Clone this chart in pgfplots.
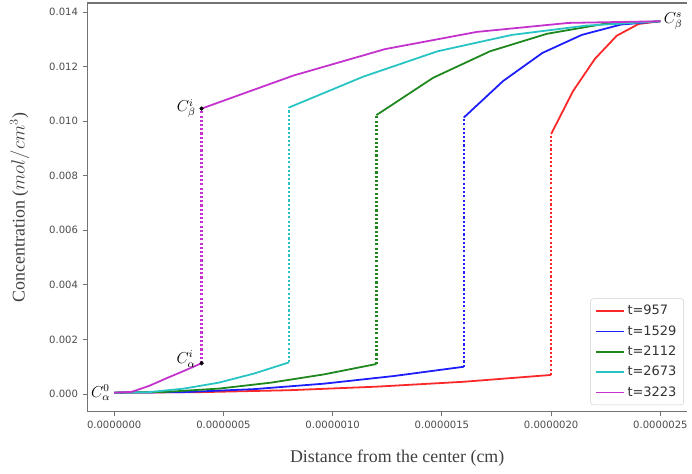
\documentclass[border=0pt]{standalone}
\usepackage{pgfplots}
\pgfplotsset{compat=1.18}
\usepackage{fontspec}
\setmainfont{Liberation Serif}
\newfontfamily\dejavu{DejaVu Sans}
\definecolor{mplred}{RGB}{250,40,40}
\definecolor{mplblue}{RGB}{30,30,250}
\definecolor{mplgreen}{RGB}{30,135,30}
\definecolor{mplcyan}{RGB}{40,196,196}
\definecolor{mplmag}{RGB}{196,50,206}
\tikzset{
  solidc/.style={line width=1.35pt},
  jump/.style={line width=1.7pt, dash pattern=on 1.6pt off 1.6pt}
}
\begin{document}
\begin{tikzpicture}
\begin{axis}[
    scale only axis,
    width=453pt, height=309pt,
    xmin=-1.23e-7, xmax=2.62e-6,
    ymin=-0.00065, ymax=0.01433,
    axis x line*=bottom, axis y line*=left,
    axis line style={black!55, line width=0.8pt},
    tick align=outside,
    major tick length=3.5pt,
    tick style={black!55, line width=0.7pt},
    xtick={0,5e-7,1e-6,1.5e-6,2e-6,2.5e-6},
    ytick={0,0.002,0.004,0.006,0.008,0.010,0.012,0.014},
    scaled x ticks=false, scaled y ticks=false,
    xticklabel style={/pgf/number format/.cd, fixed, fixed zerofill, precision=7},
    yticklabel style={/pgf/number format/.cd, fixed, fixed zerofill, precision=3},
    /pgf/number format/assume math mode=true,
    tick label style={font=\dejavu\fontsize{7.6}{9}\selectfont, text=black!70},
    xlabel={Distance from the center (cm)},
    ylabel={Concentration ($mol/cm^3$)},
    label style={font=\fontsize{13.5}{15}\selectfont, text=black!75},
    xlabel style={at={(axis description cs:0.517,-0.114)}, anchor=center},
    ylabel style={at={(axis description cs:-0.113,0.5)}, anchor=center},
    legend cell align=left,
    legend style={at={(rel axis cs:1,0)}, anchor=south east, xshift=-2pt, yshift=5pt,
        draw=black!18, rounded corners=2pt, fill=white,
        font=\dejavu\fontsize{9.8}{11}\selectfont, text=black!80,
        inner xsep=3.5pt, inner ysep=3pt, row sep=2.6pt},
    legend image code/.code={\draw[#1, line width=1.35pt] (0pt,0pt) -- (21pt,0pt);},
    clip=false,
]
% red t=957
\addplot[mplred, solidc] coordinates {(0,0.00005)(4e-7,0.00007)(8e-7,0.00014)(12e-7,0.00027)(16e-7,0.00045)(20e-7,0.00070)};
\addplot[mplred, solidc, forget plot] coordinates {(20e-7,0.00953)(21e-7,0.01110)(22e-7,0.01228)(23e-7,0.01313)(24e-7,0.01356)(25e-7,0.01366)};
\addplot[mplred, jump, forget plot] coordinates {(20e-7,0.00070)(20e-7,0.00953)};
% blue t=1529
\addplot[mplblue, solidc] coordinates {(0,0.00005)(3.2e-7,0.00007)(6.4e-7,0.00018)(9.6e-7,0.00038)(12.8e-7,0.00066)(16e-7,0.00100)};
\addplot[mplblue, solidc, forget plot] coordinates {(16e-7,0.01013)(17.8e-7,0.01147)(19.6e-7,0.01250)(21.4e-7,0.01316)(23.2e-7,0.01354)(25e-7,0.01366)};
\addplot[mplblue, jump, forget plot] coordinates {(16e-7,0.00100)(16e-7,0.01013)};
% green t=2112
\addplot[mplgreen, solidc] coordinates {(0,0.00005)(2.4e-7,0.00008)(4.8e-7,0.00020)(7.2e-7,0.00042)(9.6e-7,0.00072)(12e-7,0.00110)};
\addplot[mplgreen, solidc, forget plot] coordinates {(12e-7,0.01022)(14.6e-7,0.01159)(17.2e-7,0.01256)(19.8e-7,0.01320)(22.4e-7,0.01356)(25e-7,0.01366)};
\addplot[mplgreen, jump, forget plot] coordinates {(12e-7,0.00110)(12e-7,0.01022)};
% cyan t=2673
\addplot[mplcyan, solidc] coordinates {(0,0.00005)(1.6e-7,0.00007)(3.2e-7,0.00020)(4.8e-7,0.00042)(6.4e-7,0.00075)(8e-7,0.00116)};
\addplot[mplcyan, solidc, forget plot] coordinates {(8e-7,0.01050)(11.4e-7,0.01163)(14.8e-7,0.01256)(18.2e-7,0.01316)(21.6e-7,0.01350)(25e-7,0.01366)};
\addplot[mplcyan, jump, forget plot] coordinates {(8e-7,0.00116)(8e-7,0.01050)};
% magenta t=3223
\addplot[mplmag, solidc] coordinates {(0,0.00005)(0.8e-7,0.00008)(1.6e-7,0.00030)(2.4e-7,0.00058)(3.2e-7,0.00085)(4e-7,0.00113)};
\addplot[mplmag, solidc, forget plot] coordinates {(4e-7,0.01046)(8.2e-7,0.01167)(12.4e-7,0.01264)(16.6e-7,0.01327)(20.8e-7,0.01360)(25e-7,0.01366)};
\addplot[mplmag, jump, forget plot] coordinates {(4e-7,0.00113)(4e-7,0.01046)};
% interface points
\addplot[only marks, mark=*, mark size=1.4pt, black, forget plot] coordinates {(4e-7,0.00113)(4e-7,0.01046)};
\legend{t=957, t=1529, t=2112, t=2673, t=3223}
% annotations
\node[anchor=east, font=\fontsize{12}{13}\selectfont, xshift=0.5pt] at (axis cs:0,0.00005) {$C_\alpha^0$};
\node[anchor=east, font=\fontsize{12}{13}\selectfont, yshift=3pt, xshift=-1pt] at (axis cs:4e-7,0.00113) {$C_\alpha^i$};
\node[anchor=east, font=\fontsize{12}{13}\selectfont, xshift=-1pt] at (axis cs:4e-7,0.01046) {$C_\beta^i$};
\node[anchor=west, font=\fontsize{12}{13}\selectfont, xshift=-1pt] at (axis cs:25e-7,0.01366) {$C_\beta^s$};
\draw[black!55, line width=0.8pt] (rel axis cs:0,1) -- (rel axis cs:1,1);
\path (rel axis cs:-0.1457,-0.1505) (rel axis cs:1,1.0073);
\end{axis}
\end{tikzpicture}
\end{document}
